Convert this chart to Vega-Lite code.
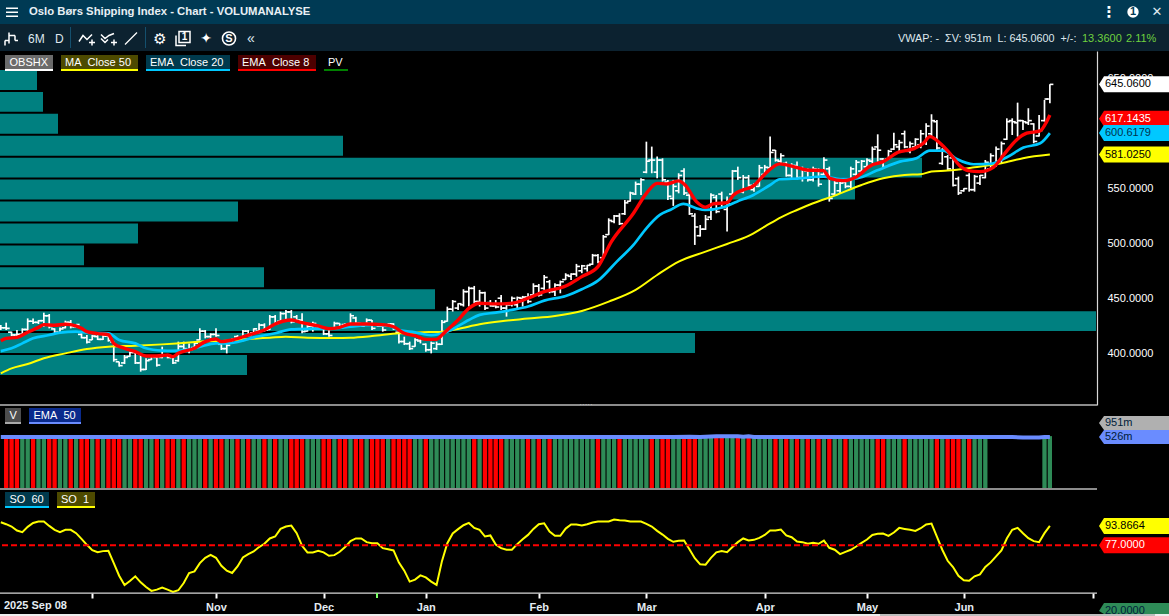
{
"$schema":"https://vega.github.io/schema/vega-lite/v6.json",
"padding":0,"background":"#000000","spacing":0,"bounds":"flush",
"resolve":{"scale":{"color":"independent","fill":"independent","strokeWidth":"independent"}},
"config":{"axis":{"disable":true},"legend":{"disable":true},"view":{"stroke":null},"font":"Liberation Sans","text":{"font":"Liberation Sans"}},
"datasets":{
"vbp":[{"lo":380,"hi":398.2,"pv":24.7},{"lo":400,"hi":418.2,"pv":69.5},{"lo":420,"hi":438.2,"pv":109.6},{"lo":440,"hi":458.2,"pv":43.5},{"lo":460,"hi":478.2,"pv":26.4},{"lo":480,"hi":498.2,"pv":8.4},{"lo":500,"hi":518.2,"pv":13.8},{"lo":520,"hi":538.2,"pv":23.8},{"lo":540,"hi":558.2,"pv":85.5},{"lo":560,"hi":578.2,"pv":92.2},{"lo":580,"hi":598.2,"pv":34.3},{"lo":600,"hi":618.2,"pv":5.8},{"lo":620,"hi":638.2,"pv":4.3},{"lo":640,"hi":658.2,"pv":3.7}],
"tags":[{"s":"OBSHX","at":645.06,"t":"645.0600"},{"s":"EMA8","at":613.6,"t":"617.1435"},{"s":"EMA20","at":600.6,"t":"600.6179"},{"s":"MA50","at":581.0,"t":"581.0250"}],
"lines":[
{"s":"MA50","i":0,"p":381.5},{"s":"MA50","i":2,"p":386},{"s":"MA50","i":5,"p":390},{"s":"MA50","i":8,"p":395.2},{"s":"MA50","i":12,"p":399.7},{"s":"MA50","i":16,"p":403.7},{"s":"MA50","i":20,"p":405.8},{"s":"MA50","i":25,"p":406.7},{"s":"MA50","i":30,"p":407.9},{"s":"MA50","i":35,"p":409.5},{"s":"MA50","i":38,"p":410.7},{"s":"MA50","i":42,"p":411.3},{"s":"MA50","i":46,"p":412.8},{"s":"MA50","i":50,"p":414},{"s":"MA50","i":53,"p":414.9},{"s":"MA50","i":57,"p":414},{"s":"MA50","i":62,"p":413.7},{"s":"MA50","i":65,"p":414},{"s":"MA50","i":69,"p":415.5},{"s":"MA50","i":74,"p":418},{"s":"MA50","i":78,"p":418.9},{"s":"MA50","i":82,"p":419.5},{"s":"MA50","i":85,"p":422},{"s":"MA50","i":89,"p":426.2},{"s":"MA50","i":93,"p":429},{"s":"MA50","i":98,"p":431.4},{"s":"MA50","i":103,"p":433.8},{"s":"MA50","i":108,"p":438.4},{"s":"MA50","i":113,"p":446.9},{"s":"MA50","i":118,"p":457.6},{"s":"MA50","i":122,"p":471.2},{"s":"MA50","i":126,"p":483.4},{"s":"MA50","i":131,"p":492.5},{"s":"MA50","i":135,"p":499.5},{"s":"MA50","i":139,"p":506.8},{"s":"MA50","i":142,"p":515.3},{"s":"MA50","i":145,"p":523.8},{"s":"MA50","i":148,"p":530.5},{"s":"MA50","i":151,"p":536.6},{"s":"MA50","i":155,"p":543.6},{"s":"MA50","i":160,"p":553.3},{"s":"MA50","i":164,"p":559.4},{"s":"MA50","i":168,"p":562.5},{"s":"MA50","i":171,"p":563.1},{"s":"MA50","i":173,"p":565.5},{"s":"MA50","i":176,"p":566.4},{"s":"MA50","i":181,"p":569.4},{"s":"MA50","i":186,"p":573},{"s":"MA50","i":190,"p":577.7},{"s":"MA50","i":195,"p":581},
{"s":"EMA20","i":0,"p":401.8},{"s":"EMA20","i":2,"p":404.3},{"s":"EMA20","i":4,"p":408.8},{"s":"EMA20","i":6,"p":413.4},{"s":"EMA20","i":9,"p":416.4},{"s":"EMA20","i":11,"p":418.6},{"s":"EMA20","i":14,"p":419.5},{"s":"EMA20","i":16,"p":418.6},{"s":"EMA20","i":20,"p":418},{"s":"EMA20","i":22,"p":411.9},{"s":"EMA20","i":25,"p":408.8},{"s":"EMA20","i":27,"p":404.3},{"s":"EMA20","i":30,"p":402.2},{"s":"EMA20","i":32,"p":401.9},{"s":"EMA20","i":35,"p":403.4},{"s":"EMA20","i":37,"p":405.8},{"s":"EMA20","i":40,"p":408.8},{"s":"EMA20","i":42,"p":408.8},{"s":"EMA20","i":45,"p":411.3},{"s":"EMA20","i":47,"p":414.3},{"s":"EMA20","i":51,"p":418},{"s":"EMA20","i":54,"p":421.6},{"s":"EMA20","i":58,"p":422.2},{"s":"EMA20","i":61,"p":422.5},{"s":"EMA20","i":65,"p":424},{"s":"EMA20","i":69,"p":425.6},{"s":"EMA20","i":72,"p":425},{"s":"EMA20","i":74,"p":421},{"s":"EMA20","i":77,"p":418.9},{"s":"EMA20","i":80,"p":416.4},{"s":"EMA20","i":83,"p":419.5},{"s":"EMA20","i":87,"p":430.2},{"s":"EMA20","i":89,"p":434.8},{"s":"EMA20","i":92,"p":436.9},{"s":"EMA20","i":95,"p":439.3},{"s":"EMA20","i":98,"p":442.4},{"s":"EMA20","i":101,"p":447.8},{"s":"EMA20","i":105,"p":452.1},{"s":"EMA20","i":108,"p":458.2},{"s":"EMA20","i":111,"p":466},{"s":"EMA20","i":114.5,"p":483.4},{"s":"EMA20","i":117.6,"p":498.6},{"s":"EMA20","i":120,"p":513.8},{"s":"EMA20","i":122.5,"p":526},{"s":"EMA20","i":124.4,"p":530.5},{"s":"EMA20","i":126.9,"p":536},{"s":"EMA20","i":129.3,"p":532},{"s":"EMA20","i":130.9,"p":530.5},{"s":"EMA20","i":134.3,"p":533},{"s":"EMA20","i":136.8,"p":538.1},{"s":"EMA20","i":139.9,"p":544.2},{"s":"EMA20","i":143,"p":553.3},{"s":"EMA20","i":144.8,"p":558.5},{"s":"EMA20","i":148.6,"p":559.4},{"s":"EMA20","i":152.9,"p":560.9},{"s":"EMA20","i":156,"p":558.8},{"s":"EMA20","i":159.1,"p":559.4},{"s":"EMA20","i":162.8,"p":566.4},{"s":"EMA20","i":167.1,"p":574.6},{"s":"EMA20","i":170.2,"p":577.7},{"s":"EMA20","i":172.7,"p":584.6},{"s":"EMA20","i":175.2,"p":584.6},{"s":"EMA20","i":177.7,"p":577},{"s":"EMA20","i":180.8,"p":572.2},{"s":"EMA20","i":183.9,"p":572.5},{"s":"EMA20","i":187,"p":578.6},{"s":"EMA20","i":190.1,"p":587.4},{"s":"EMA20","i":193.2,"p":591.3},{"s":"EMA20","i":195,"p":600.6},
{"s":"EMA8","i":0,"p":411.3},{"s":"EMA8","i":1,"p":413.4},{"s":"EMA8","i":3,"p":414.3},{"s":"EMA8","i":5,"p":418.9},{"s":"EMA8","i":7,"p":423.4},{"s":"EMA8","i":8,"p":425.9},{"s":"EMA8","i":10,"p":425.3},{"s":"EMA8","i":12,"p":426.2},{"s":"EMA8","i":13,"p":425.9},{"s":"EMA8","i":15,"p":422.5},{"s":"EMA8","i":16,"p":419.5},{"s":"EMA8","i":18,"p":417.7},{"s":"EMA8","i":20,"p":416.7},{"s":"EMA8","i":21,"p":408.8},{"s":"EMA8","i":23,"p":404.3},{"s":"EMA8","i":25,"p":401.2},{"s":"EMA8","i":27,"p":397.3},{"s":"EMA8","i":29,"p":397.3},{"s":"EMA8","i":31,"p":398.2},{"s":"EMA8","i":32,"p":396.7},{"s":"EMA8","i":33,"p":399.7},{"s":"EMA8","i":36,"p":404.3},{"s":"EMA8","i":38,"p":410.4},{"s":"EMA8","i":40,"p":412.8},{"s":"EMA8","i":41,"p":410.4},{"s":"EMA8","i":43,"p":411.9},{"s":"EMA8","i":46,"p":416.4},{"s":"EMA8","i":49,"p":421},{"s":"EMA8","i":51,"p":426.5},{"s":"EMA8","i":54,"p":430.1},{"s":"EMA8","i":56,"p":427.7},{"s":"EMA8","i":59,"p":424.7},{"s":"EMA8","i":61,"p":422.2},{"s":"EMA8","i":63,"p":423.4},{"s":"EMA8","i":65,"p":426.5},{"s":"EMA8","i":68,"p":426.5},{"s":"EMA8","i":71,"p":425.9},{"s":"EMA8","i":73,"p":424},{"s":"EMA8","i":75,"p":418},{"s":"EMA8","i":77,"p":415.8},{"s":"EMA8","i":79,"p":412.5},{"s":"EMA8","i":81,"p":412.5},{"s":"EMA8","i":82,"p":416.4},{"s":"EMA8","i":83,"p":421.1},{"s":"EMA8","i":85,"p":430.2},{"s":"EMA8","i":87,"p":440.8},{"s":"EMA8","i":89,"p":445.4},{"s":"EMA8","i":92,"p":444.8},{"s":"EMA8","i":95,"p":445.4},{"s":"EMA8","i":98,"p":450},{"s":"EMA8","i":101,"p":456},{"s":"EMA8","i":105,"p":461.2},{"s":"EMA8","i":108,"p":469.7},{"s":"EMA8","i":111,"p":478.8},{"s":"EMA8","i":113.5,"p":501.6},{"s":"EMA8","i":117.6,"p":527.5},{"s":"EMA8","i":120,"p":545.7},{"s":"EMA8","i":122,"p":554.8},{"s":"EMA8","i":123.8,"p":554.2},{"s":"EMA8","i":126,"p":557},{"s":"EMA8","i":127.2,"p":553.3},{"s":"EMA8","i":129.3,"p":538.1},{"s":"EMA8","i":131,"p":533},{"s":"EMA8","i":132.4,"p":536},{"s":"EMA8","i":135,"p":537.2},{"s":"EMA8","i":136.2,"p":544.2},{"s":"EMA8","i":138,"p":548.8},{"s":"EMA8","i":139.9,"p":552.4},{"s":"EMA8","i":141,"p":557.9},{"s":"EMA8","i":142.7,"p":566.4},{"s":"EMA8","i":144.8,"p":572.5},{"s":"EMA8","i":147.3,"p":570.1},{"s":"EMA8","i":149.8,"p":567},{"s":"EMA8","i":152.9,"p":566.4},{"s":"EMA8","i":154.1,"p":559.4},{"s":"EMA8","i":156.6,"p":557.3},{"s":"EMA8","i":159.1,"p":560.9},{"s":"EMA8","i":161.6,"p":570.7},{"s":"EMA8","i":164,"p":574.6},{"s":"EMA8","i":166.8,"p":583.1},{"s":"EMA8","i":169.6,"p":586.2},{"s":"EMA8","i":171.5,"p":591.3},{"s":"EMA8","i":172.7,"p":597.4},{"s":"EMA8","i":174.6,"p":591.3},{"s":"EMA8","i":176.4,"p":582.2},{"s":"EMA8","i":178.3,"p":570.7},{"s":"EMA8","i":179.8,"p":566.4},{"s":"EMA8","i":182,"p":565.5},{"s":"EMA8","i":184.5,"p":569.4},{"s":"EMA8","i":186.4,"p":580.7},{"s":"EMA8","i":188.8,"p":594.4},{"s":"EMA8","i":190.7,"p":600.5},{"s":"EMA8","i":193.2,"p":602.6},{"s":"EMA8","i":194.4,"p":611.1},{"s":"EMA8","i":195,"p":617.14}
],
"vema":[{"i":0,"v":526},{"i":125,"v":526},{"i":128,"v":650},{"i":130,"v":526},{"i":133,"v":800},{"i":137,"v":800},{"i":138,"v":600},{"i":139,"v":800},{"i":140,"v":526},{"i":188,"v":526},{"i":190,"v":400},{"i":193,"v":380},{"i":194,"v":526},{"i":195,"v":526}],
"bars":[
{"i":0,"o":424,"h":425.6,"l":421,"c":423,"so":97.1},
{"i":1,"o":423,"h":427.7,"l":421,"c":422.5,"so":95.4,"d":"R","v":500},
{"i":2,"o":419,"h":419.5,"l":415.5,"c":416.5,"so":93.4,"d":"R","v":500},
{"i":3,"o":416.5,"h":421,"l":415.5,"c":417,"so":89.9,"d":"R","v":500},
{"i":4,"o":417,"h":422.5,"l":416.4,"c":421.5,"so":88.5,"d":"G","v":500},
{"i":5,"o":421.5,"h":431.6,"l":418,"c":429,"so":93.1,"d":"G","v":500},
{"i":6,"o":429,"h":431.6,"l":426.5,"c":428,"so":96.5,"d":"R","v":500},
{"i":7,"o":428,"h":430.1,"l":426.5,"c":429.5,"so":97.7,"d":"G","v":500},
{"i":8,"o":429.5,"h":436.8,"l":424,"c":434,"so":97.7,"d":"G","v":500},
{"i":9,"o":434,"h":435.6,"l":422.5,"c":424,"so":93.9,"d":"R","v":500},
{"i":10,"o":422,"h":422.5,"l":418,"c":419,"so":90.5,"d":"R","v":500},
{"i":11,"o":419,"h":423.4,"l":418,"c":422,"so":88.5,"d":"G","v":500},
{"i":12,"o":423,"h":429.5,"l":422.5,"c":428,"so":90.5,"d":"G","v":500},
{"i":13,"o":428,"h":430.1,"l":422.5,"c":424,"so":90.5,"d":"R","v":500},
{"i":14,"o":424,"h":426.5,"l":423.4,"c":426,"so":87.6,"d":"G","v":500},
{"i":15,"o":417,"h":418,"l":413.4,"c":414,"so":82.7,"d":"R","v":500},
{"i":16,"o":414,"h":416.4,"l":408.8,"c":410,"so":77.5,"d":"R","v":500},
{"i":17,"o":412,"h":416.4,"l":411.9,"c":415.5,"so":72.9,"d":"G","v":500},
{"i":18,"o":415,"h":416.4,"l":411.9,"c":412.5,"so":71.1,"d":"R","v":500},
{"i":19,"o":412.5,"h":416.4,"l":411.9,"c":415.5,"so":72,"d":"G","v":500},
{"i":20,"o":415.5,"h":418,"l":410.4,"c":411.5,"so":72.3,"d":"R","v":500},
{"i":21,"o":410,"h":410.4,"l":392.1,"c":394,"so":61.6,"d":"R","v":500},
{"i":22,"o":392,"h":392.1,"l":387.6,"c":388.5,"so":50.6,"d":"R","v":500},
{"i":23,"o":391,"h":398.2,"l":390,"c":396,"so":42.6,"d":"G","v":500},
{"i":24,"o":397,"h":401.2,"l":396.7,"c":400.5,"so":46,"d":"G","v":500},
{"i":25,"o":400.5,"h":401.2,"l":390,"c":391,"so":50.1,"d":"R","v":500},
{"i":26,"o":391,"h":398.2,"l":383,"c":385,"so":44.9,"d":"R","v":500},
{"i":27,"o":385,"h":395.2,"l":384.5,"c":393,"so":40.8,"d":"G","v":500},
{"i":28,"o":394,"h":398.2,"l":393.6,"c":397.5,"so":37.4,"d":"G","v":500},
{"i":29,"o":396,"h":396.7,"l":387.6,"c":389,"so":38.5,"d":"R","v":500},
{"i":30,"o":396,"h":405.8,"l":395.2,"c":398,"so":40.3,"d":"G","v":500},
{"i":31,"o":398,"h":398.2,"l":395.2,"c":396,"so":38.5,"d":"R","v":500},
{"i":32,"o":396,"h":398.2,"l":390,"c":391,"so":36.5,"d":"R","v":500},
{"i":33,"o":393,"h":410.4,"l":392.1,"c":406,"so":38,"d":"G","v":500},
{"i":34,"o":406,"h":410.4,"l":402.8,"c":404,"so":44.3,"d":"R","v":500},
{"i":35,"o":402,"h":408.8,"l":399.7,"c":403,"so":53,"d":"G","v":500},
{"i":36,"o":405,"h":410.4,"l":404.3,"c":409,"so":54.4,"d":"G","v":500},
{"i":37,"o":412,"h":422.5,"l":411.9,"c":420,"so":61.6,"d":"G","v":500},
{"i":38,"o":420,"h":421,"l":413.4,"c":415,"so":66.2,"d":"R","v":500},
{"i":39,"o":415,"h":418,"l":411.9,"c":417,"so":68.8,"d":"G","v":500},
{"i":40,"o":417,"h":422.5,"l":414.9,"c":416,"so":66.2,"d":"R","v":500},
{"i":41,"o":408,"h":408.8,"l":402.8,"c":404,"so":59.3,"d":"R","v":500},
{"i":42,"o":404,"h":408.8,"l":399.7,"c":407,"so":55,"d":"G","v":500},
{"i":43,"o":409,"h":413.4,"l":408.8,"c":412.5,"so":53,"d":"G","v":500},
{"i":44,"o":415,"h":416.4,"l":411.9,"c":413,"so":58.7,"d":"R","v":500},
{"i":45,"o":414,"h":421,"l":413.4,"c":420,"so":66.5,"d":"G","v":500},
{"i":46,"o":420,"h":421,"l":414.9,"c":416,"so":69.4,"d":"R","v":500},
{"i":47,"o":418.5,"h":422.5,"l":418,"c":422,"so":71.7,"d":"G","v":500},
{"i":48,"o":420,"h":427.1,"l":418,"c":425.5,"so":75.5,"d":"G","v":500},
{"i":49,"o":425.5,"h":427.1,"l":419.5,"c":421,"so":78.4,"d":"R","v":500},
{"i":50,"o":421.5,"h":434.7,"l":421,"c":433,"so":83,"d":"G","v":500},
{"i":51,"o":433,"h":434.7,"l":425.6,"c":427,"so":84.7,"d":"R","v":500},
{"i":52,"o":429,"h":437.7,"l":428.6,"c":436,"so":91.3,"d":"G","v":500},
{"i":53,"o":436,"h":439.2,"l":430.1,"c":437.5,"so":93.4,"d":"G","v":500},
{"i":54,"o":437.5,"h":439.2,"l":427.1,"c":428.5,"so":94.2,"d":"R","v":500},
{"i":55,"o":433,"h":434.7,"l":428.6,"c":430,"so":87.6,"d":"R","v":500},
{"i":56,"o":430,"h":436.2,"l":418,"c":419.5,"so":76.6,"d":"R","v":500},
{"i":57,"o":420,"h":425.6,"l":419.5,"c":424.5,"so":70.9,"d":"G","v":500},
{"i":58,"o":424.5,"h":428.6,"l":419.5,"c":427,"so":70.9,"d":"G","v":500},
{"i":59,"o":422.5,"h":424,"l":421,"c":423.8,"so":72.3,"d":"G","v":500},
{"i":60,"o":423.8,"h":424,"l":416.4,"c":417.5,"so":70.9,"d":"R","v":500},
{"i":61,"o":417.5,"h":422.5,"l":414.9,"c":416,"so":68,"d":"R","v":500},
{"i":62,"o":423,"h":428.6,"l":422.5,"c":427,"so":68.5,"d":"G","v":500},
{"i":63,"o":427,"h":427.1,"l":422.5,"c":423,"so":71.4,"d":"R","v":500},
{"i":64,"o":426,"h":427.1,"l":424,"c":424.5,"so":75.5,"d":"R","v":500},
{"i":65,"o":426,"h":436.2,"l":425.6,"c":434,"so":80.7,"d":"G","v":500},
{"i":66,"o":432,"h":433.2,"l":425.6,"c":427,"so":83,"d":"R","v":500},
{"i":67,"o":427,"h":427.1,"l":424,"c":424.5,"so":83,"d":"R","v":500},
{"i":68,"o":426,"h":431.6,"l":425.6,"c":430,"so":79.8,"d":"G","v":500},
{"i":69,"o":430,"h":430.1,"l":421,"c":422.5,"so":78.9,"d":"R","v":500},
{"i":70,"o":425.5,"h":427.1,"l":424,"c":424.5,"so":78.9,"d":"R","v":500},
{"i":71,"o":424.5,"h":427.1,"l":419.5,"c":421,"so":74.6,"d":"R","v":500},
{"i":72,"o":424.5,"h":427.1,"l":424,"c":426.5,"so":73.7,"d":"G","v":500},
{"i":73,"o":426.5,"h":427.1,"l":421,"c":422,"so":72.6,"d":"R","v":500},
{"i":74,"o":419,"h":419.5,"l":408.8,"c":410.5,"so":62,"d":"R","v":500},
{"i":75,"o":410.5,"h":414.9,"l":407.3,"c":408.5,"so":55,"d":"R","v":500},
{"i":76,"o":408.5,"h":410.4,"l":402.8,"c":404,"so":45.5,"d":"R","v":500},
{"i":77,"o":406,"h":413.4,"l":405.8,"c":412,"so":47.2,"d":"G","v":500},
{"i":78,"o":411,"h":413.4,"l":408.8,"c":412.5,"so":50.9,"d":"G","v":500},
{"i":79,"o":408,"h":408.8,"l":401.2,"c":403,"so":49.2,"d":"R","v":500},
{"i":80,"o":403,"h":410.4,"l":399.7,"c":409,"so":45.5,"d":"G","v":500},
{"i":81,"o":404,"h":410.4,"l":402.8,"c":408,"so":42.6,"d":"G","v":500},
{"i":82,"o":408,"h":430.1,"l":407.3,"c":428,"so":63.3,"d":"G","v":500},
{"i":83,"o":429,"h":442.3,"l":428.6,"c":440,"so":78.9,"d":"G","v":500},
{"i":84,"o":440,"h":448.4,"l":437.8,"c":447,"so":87.3,"d":"G","v":500},
{"i":85,"o":441,"h":445.4,"l":439.3,"c":445,"so":91.1,"d":"G","v":500},
{"i":86,"o":444,"h":458.2,"l":442.4,"c":456,"so":94.5,"d":"G","v":500},
{"i":87,"o":456,"h":460.6,"l":442.4,"c":459,"so":96.5,"d":"G","v":500},
{"i":88,"o":459,"h":461.2,"l":445.4,"c":447,"so":92.2,"d":"R","v":500},
{"i":89,"o":447,"h":457.6,"l":442.4,"c":455,"so":90.5,"d":"G","v":500},
{"i":90,"o":455,"h":456,"l":439.3,"c":441,"so":84.7,"d":"R","v":500},
{"i":91,"o":446,"h":448.4,"l":442.4,"c":443,"so":85.6,"d":"R","v":500},
{"i":92,"o":443,"h":448.4,"l":440.8,"c":442,"so":77.8,"d":"R","v":500},
{"i":93,"o":450,"h":453,"l":439.3,"c":441,"so":74.6,"d":"R","v":500},
{"i":94,"o":441,"h":445.4,"l":433.2,"c":444,"so":73.2,"d":"G","v":500},
{"i":95,"o":444,"h":451.5,"l":442.4,"c":450,"so":73.2,"d":"G","v":500},
{"i":96,"o":444,"h":451.5,"l":440.8,"c":450.5,"so":78.1,"d":"G","v":500},
{"i":97,"o":450,"h":452.1,"l":442.4,"c":451,"so":82.4,"d":"G","v":500},
{"i":98,"o":451,"h":454.5,"l":445.4,"c":447,"so":86.1,"d":"R","v":500},
{"i":99,"o":453,"h":463.6,"l":451.5,"c":461,"so":91.3,"d":"G","v":500},
{"i":100,"o":461,"h":463,"l":451.5,"c":453,"so":95.4,"d":"R","v":500},
{"i":101,"o":459,"h":471.2,"l":457.6,"c":469,"so":96.2,"d":"G","v":500},
{"i":102,"o":465,"h":466.7,"l":454.5,"c":456,"so":89,"d":"R","v":500},
{"i":103,"o":456,"h":463.6,"l":452.1,"c":462,"so":85.3,"d":"G","v":500},
{"i":104,"o":462,"h":466.1,"l":454.5,"c":465,"so":85.3,"d":"G","v":500},
{"i":105,"o":467,"h":472.8,"l":466.7,"c":471,"so":91.6,"d":"G","v":500},
{"i":106,"o":470,"h":472.8,"l":466.7,"c":472,"so":95.1,"d":"G","v":500},
{"i":107,"o":472,"h":481.3,"l":469.7,"c":479,"so":95.1,"d":"G","v":500},
{"i":108,"o":475,"h":480.4,"l":472.8,"c":479.5,"so":94.2,"d":"G","v":500},
{"i":109,"o":477,"h":480.4,"l":474.3,"c":480,"so":95.4,"d":"G","v":500},
{"i":110,"o":481,"h":490.4,"l":480.4,"c":489,"so":96.8,"d":"G","v":500},
{"i":111,"o":489,"h":490.4,"l":481.9,"c":483,"so":97.7,"d":"R","v":500},
{"i":112,"o":487,"h":507.7,"l":486.4,"c":506,"so":97.7,"d":"G","v":500},
{"i":113,"o":508,"h":522.9,"l":507.7,"c":521,"so":97.7,"d":"G","v":500},
{"i":114,"o":520,"h":526,"l":518.4,"c":525,"so":99.4,"d":"G","v":500},
{"i":115,"o":525,"h":527.5,"l":516.8,"c":518,"so":98.8,"d":"R","v":500},
{"i":116,"o":527,"h":539.6,"l":526,"c":537,"so":98.6,"d":"G","v":500},
{"i":117,"o":538.5,"h":547.2,"l":538.1,"c":546,"so":97.7,"d":"G","v":500},
{"i":118,"o":545,"h":556.4,"l":544.2,"c":554,"so":97.7,"d":"G","v":500},
{"i":119,"o":554,"h":559.4,"l":544.2,"c":558,"so":97.7,"d":"G","v":500},
{"i":120,"o":565,"h":592.8,"l":564,"c":575,"so":95.7,"d":"G","v":500},
{"i":121,"o":576,"h":588.3,"l":564,"c":576,"so":93.4,"d":"R","v":500},
{"i":122,"o":565,"h":579.2,"l":559.4,"c":576,"so":89.6,"d":"G","v":500},
{"i":123,"o":576,"h":577.6,"l":556.4,"c":558,"so":86.4,"d":"R","v":500},
{"i":124,"o":556,"h":557.9,"l":539.6,"c":543,"so":82.7,"d":"R","v":500},
{"i":125,"o":541,"h":557.9,"l":534.2,"c":552,"so":80.1,"d":"G","v":500},
{"i":126,"o":548,"h":564,"l":545.7,"c":562,"so":81,"d":"G","v":500},
{"i":127,"o":566,"h":568.5,"l":544.2,"c":546,"so":81.2,"d":"R","v":500},
{"i":128,"o":544,"h":545.7,"l":526,"c":527,"so":73.7,"d":"R","v":500},
{"i":129,"o":525,"h":527.5,"l":498.6,"c":515,"so":65.9,"d":"R","v":500},
{"i":130,"o":507,"h":516.8,"l":506.2,"c":513,"so":60.5,"d":"G","v":500},
{"i":131,"o":513,"h":525.9,"l":512.3,"c":522,"so":60.2,"d":"G","v":500},
{"i":132,"o":524,"h":545.7,"l":521.4,"c":544,"so":66.2,"d":"G","v":500},
{"i":133,"o":542,"h":544.2,"l":527.5,"c":529,"so":70.9,"d":"R","v":500},
{"i":134,"o":545,"h":547.2,"l":532,"c":533.5,"so":72,"d":"R","v":500},
{"i":135,"o":531,"h":542.7,"l":510.8,"c":536,"so":71.1,"d":"G","v":500},
{"i":136,"o":545,"h":567,"l":544.2,"c":566,"so":75.5,"d":"G","v":500},
{"i":137,"o":566,"h":570,"l":557.9,"c":560,"so":79.8,"d":"R","v":500},
{"i":138,"o":547,"h":562.4,"l":545.7,"c":560,"so":83,"d":"G","v":500},
{"i":139,"o":560,"h":562.4,"l":551.8,"c":553,"so":81.2,"d":"R","v":500},
{"i":140,"o":549,"h":554.8,"l":547.2,"c":554,"so":81.8,"d":"G","v":500},
{"i":141,"o":552,"h":571.6,"l":551.8,"c":569,"so":83.5,"d":"G","v":500},
{"i":142,"o":563,"h":571.6,"l":562.4,"c":569.5,"so":86.1,"d":"G","v":500},
{"i":143,"o":569,"h":597.4,"l":567,"c":583,"so":89.9,"d":"G","v":500},
{"i":144,"o":585,"h":585.2,"l":574.6,"c":576,"so":89.9,"d":"R","v":500},
{"i":145,"o":575,"h":582.2,"l":573.1,"c":580,"so":90.8,"d":"G","v":500},
{"i":146,"o":573,"h":574.6,"l":560.9,"c":562,"so":85.6,"d":"R","v":500},
{"i":147,"o":562,"h":573.1,"l":557.9,"c":571,"so":84.1,"d":"G","v":500},
{"i":148,"o":571,"h":574.6,"l":557.9,"c":560,"so":80.4,"d":"R","v":500},
{"i":149,"o":560,"h":570,"l":556.4,"c":568,"so":79.8,"d":"G","v":500},
{"i":150,"o":566,"h":568.5,"l":556.4,"c":558,"so":78.4,"d":"R","v":500},
{"i":151,"o":558,"h":570,"l":556.4,"c":568,"so":79.2,"d":"G","v":500},
{"i":152,"o":567,"h":568.5,"l":551.8,"c":554,"so":78.4,"d":"R","v":500},
{"i":153,"o":563,"h":578.6,"l":562.5,"c":576,"so":81.2,"d":"G","v":500},
{"i":154,"o":568,"h":570,"l":538.1,"c":541,"so":74.9,"d":"R","v":500},
{"i":155,"o":545,"h":557.9,"l":544.2,"c":555,"so":73.2,"d":"G","v":500},
{"i":156,"o":548,"h":556.4,"l":545.7,"c":555,"so":69.4,"d":"G","v":500},
{"i":157,"o":556,"h":557.9,"l":550.3,"c":552,"so":71.4,"d":"R","v":500},
{"i":158,"o":552,"h":570,"l":550.3,"c":568,"so":73.2,"d":"G","v":500},
{"i":159,"o":563,"h":576.1,"l":560.9,"c":574,"so":76,"d":"G","v":500},
{"i":160,"o":566,"h":576.1,"l":564,"c":575,"so":79.2,"d":"G","v":500},
{"i":161,"o":570,"h":577.6,"l":568.5,"c":576,"so":82.1,"d":"G","v":500},
{"i":162,"o":575,"h":588.3,"l":573.1,"c":586,"so":86.1,"d":"G","v":500},
{"i":163,"o":588,"h":599.5,"l":574.6,"c":585,"so":87,"d":"R","v":500},
{"i":164,"o":577,"h":577.6,"l":568.5,"c":570,"so":87.3,"d":"R","v":500},
{"i":165,"o":577,"h":585.3,"l":576.1,"c":584,"so":85.3,"d":"G","v":500},
{"i":166,"o":586,"h":601,"l":585.3,"c":590,"so":88.2,"d":"G","v":500},
{"i":167,"o":588,"h":594.4,"l":583.7,"c":592,"so":92.2,"d":"G","v":500},
{"i":168,"o":600,"h":602.9,"l":586.8,"c":588,"so":91.3,"d":"R","v":500},
{"i":169,"o":584,"h":592.9,"l":582.2,"c":591,"so":90.5,"d":"G","v":500},
{"i":170,"o":588,"h":595.9,"l":586.8,"c":595,"so":89.6,"d":"G","v":500},
{"i":171,"o":590,"h":603.5,"l":586.8,"c":600,"so":91.9,"d":"G","v":500},
{"i":172,"o":592,"h":609.6,"l":589.8,"c":607,"so":95.1,"d":"G","v":500},
{"i":173,"o":600,"h":617.8,"l":597.4,"c":612,"so":96,"d":"G","v":500},
{"i":174,"o":611,"h":612.6,"l":585.3,"c":587,"so":84.7,"d":"R","v":500},
{"i":175,"o":573,"h":586.8,"l":571.6,"c":585,"so":73.2,"d":"G","v":500},
{"i":176,"o":579,"h":580.7,"l":567,"c":568,"so":63.6,"d":"R","v":500},
{"i":177,"o":578,"h":580.7,"l":551.8,"c":553,"so":58.2,"d":"R","v":500},
{"i":178,"o":559,"h":560.9,"l":544.2,"c":546,"so":50.6,"d":"R","v":500},
{"i":179,"o":548,"h":550.3,"l":547.2,"c":550,"so":46.6,"d":"G","v":500},
{"i":180,"o":562,"h":564,"l":547.2,"c":549,"so":46.3,"d":"R","v":500},
{"i":181,"o":549,"h":562.5,"l":547.2,"c":561,"so":50.1,"d":"G","v":500},
{"i":182,"o":555,"h":562.5,"l":553.3,"c":562,"so":51.8,"d":"G","v":500},
{"i":183,"o":560,"h":576.1,"l":559.4,"c":574,"so":58.2,"d":"G","v":500},
{"i":184,"o":568,"h":582.2,"l":567,"c":580,"so":62.2},
{"i":185,"o":572,"h":588.3,"l":570,"c":586,"so":67.4},
{"i":186,"o":575,"h":592.9,"l":573.1,"c":591,"so":72.6},
{"i":187,"o":595,"h":614.1,"l":594.4,"c":611,"so":83},
{"i":188,"o":612,"h":614.1,"l":598.9,"c":611,"so":90.5},
{"i":189,"o":610,"h":628.4,"l":597.4,"c":612,"so":92.2},
{"i":190,"o":612,"h":612.6,"l":603.5,"c":611,"so":87.6},
{"i":191,"o":610,"h":623.3,"l":608,"c":612,"so":83.3},
{"i":192,"o":609,"h":609.6,"l":591.3,"c":593,"so":80.7},
{"i":193,"o":598,"h":617.2,"l":597.4,"c":603,"so":79.8},
{"i":194,"o":612,"h":630.8,"l":611.1,"c":631.7,"so":87.6,"d":"G","v":700},
{"i":195,"o":631.7,"h":645.1,"l":627.8,"c":645.06,"so":93.9,"d":"G","v":951}
]},
"vconcat":[
{"width":1169,"height":24,"data":{"values":[{}]},"view":{"fill":"#003a54"},"layer":[
 {"mark":{"type":"rect","color":"#ffffff"},"encoding":{"x":{"datum":6,"scale":{"domain":[0,1169]}},"x2":{"datum":18},"y":{"datum":7.5,"scale":{"domain":[24,0]}},"y2":{"datum":9}}},
 {"mark":{"type":"rect","color":"#ffffff"},"encoding":{"x":{"datum":6,"scale":{"domain":[0,1169]}},"x2":{"datum":18},"y":{"datum":11.5,"scale":{"domain":[24,0]}},"y2":{"datum":13}}},
 {"mark":{"type":"rect","color":"#ffffff"},"encoding":{"x":{"datum":6,"scale":{"domain":[0,1169]}},"x2":{"datum":18},"y":{"datum":15.5,"scale":{"domain":[24,0]}},"y2":{"datum":17}}},
 {"mark":{"type":"text","align":"left","baseline":"middle","color":"#e8f0f4","fontSize":11.3,"fontWeight":"bold"},"encoding":{"x":{"datum":29,"scale":{"domain":[0,1169]}},"y":{"datum":12,"scale":{"domain":[24,0]}},"text":{"value":"Oslo Børs Shipping Index - Chart - VOLUMANALYSE"}}},
 {"mark":{"type":"text","baseline":"middle","color":"#ffffff","fontSize":15,"fontWeight":"bold","font":"DejaVu Sans"},"encoding":{"x":{"datum":1109,"scale":{"domain":[0,1169]}},"y":{"datum":12,"scale":{"domain":[24,0]}},"text":{"value":"⋮"}}},
 {"mark":{"type":"point","shape":"circle","filled":true,"color":"#ffffff","size":130,"opacity":1},"encoding":{"x":{"datum":1133,"scale":{"domain":[0,1169]}},"y":{"datum":12,"scale":{"domain":[24,0]}}}},
 {"mark":{"type":"text","baseline":"middle","color":"#003a54","fontSize":11,"fontWeight":"bold"},"encoding":{"x":{"datum":1133,"scale":{"domain":[0,1169]}},"y":{"datum":12,"scale":{"domain":[24,0]}},"text":{"value":"1"}}},
 {"mark":{"type":"text","baseline":"middle","color":"#dfe8ee","fontSize":13,"font":"DejaVu Sans"},"encoding":{"x":{"datum":1157,"scale":{"domain":[0,1169]}},"y":{"datum":12,"scale":{"domain":[24,0]}},"text":{"value":"✕"}}}
]},
{"width":1169,"height":27,"data":{"values":[{}]},"view":{"fill":"#0c2230"},"layer":[
 {"mark":{"type":"rect","color":"#14506e"},"encoding":{"x":{"datum":70,"scale":{"domain":[0,1169]}},"x2":{"datum":71},"y":{"datum":3,"scale":{"domain":[27,0]}},"y2":{"datum":24}}},
 {"mark":{"type":"rect","color":"#14506e"},"encoding":{"x":{"datum":145,"scale":{"domain":[0,1169]}},"x2":{"datum":146},"y":{"datum":3,"scale":{"domain":[27,0]}},"y2":{"datum":24}}},
 {"mark":{"type":"point","filled":false,"stroke":"#ffffff","strokeWidth":1.5,"size":4,"opacity":1,"shape":"M-7 7 L-7 2 M-7 2 L-3 2 M-3 -6 L-3 5 M-3 -3 L3 -3 M3 -3 L3 2 M3 2 L6 2"},"encoding":{"x":{"datum":12,"scale":{"domain":[0,1169]}},"y":{"datum":14.5,"scale":{"domain":[27,0]}}}},
 {"mark":{"type":"point","filled":false,"stroke":"#ffffff","strokeWidth":1.5,"size":4,"opacity":1,"shape":"M-7 3 L-3 -3 L1 1 L6 -4 M3 4 L9 4 M6 1 L6 7"},"encoding":{"x":{"datum":86,"scale":{"domain":[0,1169]}},"y":{"datum":14.5,"scale":{"domain":[27,0]}}}},
 {"mark":{"type":"point","filled":false,"stroke":"#ffffff","strokeWidth":1.5,"size":4,"opacity":1,"shape":"M-7 -4 L-3 0 L1 -3 L6 -5 M-7 0 L-3 4 L0 1 M3 4 L9 4 M6 1 L6 7"},"encoding":{"x":{"datum":108,"scale":{"domain":[0,1169]}},"y":{"datum":14.5,"scale":{"domain":[27,0]}}}},
 {"mark":{"type":"point","filled":false,"stroke":"#ffffff","strokeWidth":1.2,"size":4,"opacity":1,"shape":"M-6 6 L6 -6"},"encoding":{"x":{"datum":131,"scale":{"domain":[0,1169]}},"y":{"datum":14.5,"scale":{"domain":[27,0]}}}},
 {"mark":{"type":"point","filled":false,"stroke":"#ffffff","strokeWidth":1.5,"size":4,"opacity":1,"shape":"M-7 -3 L-7 7 L3 7 M-4 -7 L7 -7 L7 4 L-4 4 Z"},"encoding":{"x":{"datum":183,"scale":{"domain":[0,1169]}},"y":{"datum":14.5,"scale":{"domain":[27,0]}}}},
 {"mark":{"type":"point","shape":"circle","filled":false,"stroke":"#ffffff","strokeWidth":1.6,"size":170,"opacity":1},"encoding":{"x":{"datum":229,"scale":{"domain":[0,1169]}},"y":{"datum":14.5,"scale":{"domain":[27,0]}}}},
 {"mark":{"type":"text","align":"left","baseline":"middle","color":"#dfe8ee","fontSize":12},"encoding":{"x":{"datum":28,"scale":{"domain":[0,1169]}},"y":{"datum":15,"scale":{"domain":[27,0]}},"text":{"value":"6M"}}},
 {"mark":{"type":"text","align":"left","baseline":"middle","color":"#dfe8ee","fontSize":12},"encoding":{"x":{"datum":55,"scale":{"domain":[0,1169]}},"y":{"datum":15,"scale":{"domain":[27,0]}},"text":{"value":"D"}}},
 {"mark":{"type":"text","baseline":"middle","color":"#ffffff","fontSize":15,"font":"DejaVu Sans"},"encoding":{"x":{"datum":160,"scale":{"domain":[0,1169]}},"y":{"datum":14.5,"scale":{"domain":[27,0]}},"text":{"value":"⚙"}}},
 {"mark":{"type":"text","baseline":"middle","color":"#ffffff","fontSize":10,"fontWeight":"bold"},"encoding":{"x":{"datum":184.5,"scale":{"domain":[0,1169]}},"y":{"datum":13,"scale":{"domain":[27,0]}},"text":{"value":"1"}}},
 {"mark":{"type":"text","baseline":"middle","color":"#ffffff","fontSize":14,"font":"DejaVu Sans"},"encoding":{"x":{"datum":206,"scale":{"domain":[0,1169]}},"y":{"datum":14.5,"scale":{"domain":[27,0]}},"text":{"value":"✦"}}},
 {"mark":{"type":"text","baseline":"middle","color":"#ffffff","fontSize":11,"fontWeight":"bold"},"encoding":{"x":{"datum":229,"scale":{"domain":[0,1169]}},"y":{"datum":15,"scale":{"domain":[27,0]}},"text":{"value":"S"}}},
 {"mark":{"type":"text","baseline":"middle","color":"#dfe8ee","fontSize":14},"encoding":{"x":{"datum":251,"scale":{"domain":[0,1169]}},"y":{"datum":15,"scale":{"domain":[27,0]}},"text":{"value":"«"}}},
 {"mark":{"type":"text","align":"left","baseline":"middle","color":"#dfe8ee","fontSize":10.8},"encoding":{"x":{"datum":898,"scale":{"domain":[0,1169]}},"y":{"datum":15,"scale":{"domain":[27,0]}},"text":{"value":"VWAP: -\u00a0\u00a0ΣV: 951m\u00a0\u00a0L: 645.0600\u00a0\u00a0+/-:"}}},
 {"mark":{"type":"text","align":"left","baseline":"middle","color":"#6fd13f","fontSize":11},"encoding":{"x":{"datum":1082,"scale":{"domain":[0,1169]}},"y":{"datum":15,"scale":{"domain":[27,0]}},"text":{"value":"13.3600"}}},
 {"mark":{"type":"text","align":"left","baseline":"middle","color":"#6fd13f","fontSize":11},"encoding":{"x":{"datum":1126,"scale":{"domain":[0,1169]}},"y":{"datum":15,"scale":{"domain":[27,0]}},"text":{"value":"2.11%"}}}
]},
{"width":1097,"height":354,"data":{"values":[{}]},"resolve":{"scale":{"x":"independent","y":"independent","color":"independent","fill":"independent"}},"layer":[
 {"data":{"name":"vbp"},"mark":{"type":"rect","color":"#008080"},"encoding":{
  "x":{"field":"pv","type":"quantitative","scale":{"domain":[0,109.7]}},"x2":{"datum":0},
  "y":{"field":"lo","type":"quantitative","scale":{"domain":[352.6,675.5]},"axis":{"orient":"right","values":[400,450,500,550,650],"format":".4f","ticks":false,"grid":false,"title":null,"domainColor":"#d8d8d8","domainWidth":1.2,"labelColor":"#ffffff","labelFontSize":11,"labelPadding":10,"labelOverlap":false,"labelBound":false}},"y2":{"field":"hi"}}},
 {"data":{"name":"bars"},"encoding":{"x":{"field":"i","type":"quantitative","scale":{"domain":[-0.149,203.76]}}},"layer":[
  {"mark":{"type":"rule","color":"#ffffff","strokeWidth":1.7,"clip":true},"encoding":{"y":{"field":"l","type":"quantitative","scale":{"domain":[352.6,675.5]}},"y2":{"field":"h"}}},
  {"mark":{"type":"tick","orient":"horizontal","color":"#ffffff","size":3.5,"thickness":1.6,"xOffset":-1.75,"opacity":1,"clip":true},"encoding":{"y":{"field":"o","type":"quantitative","scale":{"domain":[352.6,675.5]}}}},
  {"mark":{"type":"tick","orient":"horizontal","color":"#ffffff","size":3.5,"thickness":1.6,"xOffset":1.75,"opacity":1,"clip":true},"encoding":{"y":{"field":"c","type":"quantitative","scale":{"domain":[352.6,675.5]}}}},
  {"data":{"name":"lines"},"mark":{"type":"line","clip":true,"strokeJoin":"round","interpolate":"monotone"},"encoding":{
   "y":{"field":"p","type":"quantitative","scale":{"domain":[352.6,675.5]}},
   "color":{"field":"s","type":"nominal","scale":{"domain":["MA50","EMA20","EMA8"],"range":["#ffff00","#00c8ff","#ff0000"]}},
   "strokeWidth":{"field":"s","type":"nominal","scale":{"domain":["MA50","EMA20","EMA8"],"range":[2,3.4,3.4]}}}}
 ]},
 {"data":{"name":"tags"},"encoding":{"x":{"datum":1097,"scale":{"domain":[0,1097]}},"y":{"field":"at","type":"quantitative","scale":{"domain":[352.6,675.5]}}},"layer":[
  {"mark":{"type":"point","filled":true,"size":4,"opacity":1,"shape":"M2 0 L7 -8 L72 -8 L72 8 L7 8 Z"},"encoding":{"fill":{"field":"s","type":"nominal","scale":{"domain":["OBSHX","EMA8","EMA20","MA50"],"range":["#ffffff","#ff0000","#00c8ff","#ffff00"]}}}},
  {"mark":{"type":"text","align":"left","baseline":"middle","fontSize":11,"dx":8},"encoding":{"text":{"field":"t"},"color":{"field":"s","type":"nominal","scale":{"domain":["OBSHX","EMA8","EMA20","MA50"],"range":["#000000","#ffffff","#00334d","#000000"]}}}}
 ]},
 {"layer":[
  {"mark":{"type":"rect","color":"#8c8c8c"},"encoding":{"x":{"datum":0,"scale":{"domain":[0,1097]}},"x2":{"datum":1097},"y":{"datum":353,"scale":{"domain":[354,0]}},"y2":{"datum":355}}},
  {"mark":{"type":"rect","color":"#6b6b6b"},"encoding":{"x":{"datum":5,"scale":{"domain":[0,1097]}},"x2":{"datum":53},"y":{"datum":4,"scale":{"domain":[354,0]}},"y2":{"datum":18}}},
  {"mark":{"type":"rect","color":"#ffffff"},"encoding":{"x":{"datum":5,"scale":{"domain":[0,1097]}},"x2":{"datum":53},"y":{"datum":18,"scale":{"domain":[354,0]}},"y2":{"datum":20}}},
  {"mark":{"type":"text","align":"left","baseline":"middle","color":"#ffffff","fontSize":11},"encoding":{"x":{"datum":9.5,"scale":{"domain":[0,1097]}},"y":{"datum":11.5,"scale":{"domain":[354,0]}},"text":{"value":"OBSHX"}}},
  {"mark":{"type":"rect","color":"#4d4a00"},"encoding":{"x":{"datum":61,"scale":{"domain":[0,1097]}},"x2":{"datum":138},"y":{"datum":4,"scale":{"domain":[354,0]}},"y2":{"datum":18}}},
  {"mark":{"type":"rect","color":"#ffff00"},"encoding":{"x":{"datum":61,"scale":{"domain":[0,1097]}},"x2":{"datum":138},"y":{"datum":18,"scale":{"domain":[354,0]}},"y2":{"datum":20}}},
  {"mark":{"type":"text","align":"left","baseline":"middle","color":"#ffffff","fontSize":11},"encoding":{"x":{"datum":65,"scale":{"domain":[0,1097]}},"y":{"datum":11.5,"scale":{"domain":[354,0]}},"text":{"value":"MA\u00a0\u00a0Close 50"}}},
  {"mark":{"type":"rect","color":"#003a4d"},"encoding":{"x":{"datum":146,"scale":{"domain":[0,1097]}},"x2":{"datum":230},"y":{"datum":4,"scale":{"domain":[354,0]}},"y2":{"datum":18}}},
  {"mark":{"type":"rect","color":"#00c8ff"},"encoding":{"x":{"datum":146,"scale":{"domain":[0,1097]}},"x2":{"datum":230},"y":{"datum":18,"scale":{"domain":[354,0]}},"y2":{"datum":20}}},
  {"mark":{"type":"text","align":"left","baseline":"middle","color":"#ffffff","fontSize":11},"encoding":{"x":{"datum":150,"scale":{"domain":[0,1097]}},"y":{"datum":11.5,"scale":{"domain":[354,0]}},"text":{"value":"EMA\u00a0\u00a0Close 20"}}},
  {"mark":{"type":"rect","color":"#4d0000"},"encoding":{"x":{"datum":238,"scale":{"domain":[0,1097]}},"x2":{"datum":316},"y":{"datum":4,"scale":{"domain":[354,0]}},"y2":{"datum":18}}},
  {"mark":{"type":"rect","color":"#ff0000"},"encoding":{"x":{"datum":238,"scale":{"domain":[0,1097]}},"x2":{"datum":316},"y":{"datum":18,"scale":{"domain":[354,0]}},"y2":{"datum":20}}},
  {"mark":{"type":"text","align":"left","baseline":"middle","color":"#ffffff","fontSize":11},"encoding":{"x":{"datum":242,"scale":{"domain":[0,1097]}},"y":{"datum":11.5,"scale":{"domain":[354,0]}},"text":{"value":"EMA\u00a0\u00a0Close 8"}}},
  {"mark":{"type":"rect","color":"#008000"},"encoding":{"x":{"datum":324,"scale":{"domain":[0,1097]}},"x2":{"datum":348},"y":{"datum":18,"scale":{"domain":[354,0]}},"y2":{"datum":20}}},
  {"mark":{"type":"text","align":"left","baseline":"middle","color":"#ffffff","fontSize":11},"encoding":{"x":{"datum":328,"scale":{"domain":[0,1097]}},"y":{"datum":11.5,"scale":{"domain":[354,0]}},"text":{"value":"PV"}}},
  {"mark":{"type":"text","baseline":"middle","color":"#c8c8c8","fontSize":8},"encoding":{"x":{"datum":586,"scale":{"domain":[0,1097]}},"y":{"datum":353.5,"scale":{"domain":[354,0]}},"text":{"value":"·····"}}}
 ]}
]},
{"width":1097,"height":84,"data":{"values":[{}]},"resolve":{"scale":{"x":"independent","y":"independent","color":"independent","fill":"independent"}},"layer":[
 {"data":{"name":"bars"},"encoding":{"x":{"field":"i","type":"quantitative","scale":{"domain":[-0.149,203.76],"padding":0}}},"layer":[
  {"mark":{"type":"bar","size":4.3},"encoding":{
   "y":{"field":"v","type":"quantitative","scale":{"type":"log","domain":[4.4e-13,1e12]},"axis":{"orient":"right","values":[1e12],"labelExpr":"'1,000,000tn'","ticks":false,"grid":false,"title":null,"domainColor":"#d8d8d8","domainWidth":1.2,"labelColor":"#ffffff","labelFontSize":11,"labelPadding":12,"labelOverlap":false,"labelBound":false}},
   "y2":{"datum":4.4e-13},
   "color":{"field":"d","type":"nominal","scale":{"domain":["R","G"],"range":["#ff0000","#2e8b57"]}}}},
  {"data":{"name":"vema"},"mark":{"type":"line","color":"#6a8cff","strokeWidth":4,"clip":true},"encoding":{"y":{"field":"v","type":"quantitative","scale":{"type":"log","domain":[4.4e-13,1e12]}}}}
 ]},
 {"data":{"values":[{"s":"Vol","at":6000000,"t":"951m"},{"s":"EMA50","at":526,"t":"526m"}]},"encoding":{"x":{"datum":1097,"scale":{"domain":[0,1097]}},"y":{"field":"at","type":"quantitative","scale":{"type":"log","domain":[4.4e-13,1e12]}}},"layer":[
  {"mark":{"type":"point","filled":true,"size":4,"opacity":1,"shape":"M2 0 L7 -7 L72 -7 L72 7 L7 7 Z"},"encoding":{"fill":{"field":"s","type":"nominal","scale":{"domain":["Vol","EMA50"],"range":["#b0b0b0","#6a8cff"]}}}},
  {"mark":{"type":"text","align":"left","baseline":"middle","fontSize":11,"dx":8,"color":"#00203a"},"encoding":{"text":{"field":"t"}}}
 ]},
 {"layer":[
  {"mark":{"type":"rect","color":"#8c8c8c"},"encoding":{"x":{"datum":0,"scale":{"domain":[0,1097]}},"x2":{"datum":1097},"y":{"datum":83,"scale":{"domain":[84,0]}},"y2":{"datum":85}}},
  {"mark":{"type":"rect","color":"#4d4d4d"},"encoding":{"x":{"datum":5,"scale":{"domain":[0,1097]}},"x2":{"datum":21},"y":{"datum":3,"scale":{"domain":[84,0]}},"y2":{"datum":17}}},
  {"mark":{"type":"rect","color":"#aaaaaa"},"encoding":{"x":{"datum":5,"scale":{"domain":[0,1097]}},"x2":{"datum":21},"y":{"datum":17,"scale":{"domain":[84,0]}},"y2":{"datum":19}}},
  {"mark":{"type":"text","align":"left","baseline":"middle","color":"#ffffff","fontSize":11},"encoding":{"x":{"datum":9.5,"scale":{"domain":[0,1097]}},"y":{"datum":10.5,"scale":{"domain":[84,0]}},"text":{"value":"V"}}},
  {"mark":{"type":"rect","color":"#0a2a8c"},"encoding":{"x":{"datum":29,"scale":{"domain":[0,1097]}},"x2":{"datum":81},"y":{"datum":3,"scale":{"domain":[84,0]}},"y2":{"datum":17}}},
  {"mark":{"type":"rect","color":"#6a8cff"},"encoding":{"x":{"datum":29,"scale":{"domain":[0,1097]}},"x2":{"datum":81},"y":{"datum":17,"scale":{"domain":[84,0]}},"y2":{"datum":19}}},
  {"mark":{"type":"text","align":"left","baseline":"middle","color":"#ffffff","fontSize":11},"encoding":{"x":{"datum":33.5,"scale":{"domain":[0,1097]}},"y":{"datum":10.5,"scale":{"domain":[84,0]}},"text":{"value":"EMA\u00a0\u00a050"}}}
 ]}
]},
{"width":1097,"height":104,"data":{"values":[{}]},"resolve":{"scale":{"x":"independent","y":"independent","color":"independent","fill":"independent"}},"layer":[
 {"data":{"name":"bars"},"encoding":{"x":{"field":"i","type":"quantitative","scale":{"domain":[-0.149,203.76]},"axis":{"values":[17,40,60,79,100,120,142,161,179,203],"labelExpr":"datum.value==40?'Nov':datum.value==60?'Dec':datum.value==79?'Jan':datum.value==100?'Feb':datum.value==120?'Mar':datum.value==142?'Apr':datum.value==161?'May':datum.value==179?'Jun':''","grid":false,"title":null,"domain":false,"tickColor":"#ffffff","tickWidth":2,"tickSize":5,"labelColor":"#e4ecf2","labelFontSize":11,"labelFontWeight":"bold","labelPadding":3,"labelOverlap":false,"labelBound":false,"labelFlush":false}}},"layer":[
  {"mark":{"type":"line","color":"#ffff00","strokeWidth":2,"clip":true},"encoding":{"y":{"field":"so","type":"quantitative","scale":{"domain":[35.6,126]},"axis":{"orient":"right","values":[100,50],"format":".4f","ticks":false,"grid":false,"title":null,"domainColor":"#d8d8d8","domainWidth":1.2,"labelColor":"#ffffff","labelFontSize":11,"labelPadding":10,"labelOverlap":false,"labelBound":false}}}},
  {"data":{"values":[{}]},"mark":{"type":"rule","color":"#ff0000","strokeWidth":2,"strokeDash":[6,3],"clip":true},"encoding":{"x":null,"y":{"datum":77,"scale":{"domain":[35.6,126]}}}}
 ]},
 {"data":{"values":[{"s":"SO1","at":93.87,"t":"93.8664"},{"s":"Level","at":77,"t":"77.0000"}]},"encoding":{"x":{"datum":1097,"scale":{"domain":[0,1097]}},"y":{"field":"at","type":"quantitative","scale":{"domain":[35.6,126]}}},"layer":[
  {"mark":{"type":"point","filled":true,"size":4,"opacity":1,"shape":"M2 0 L7 -8 L72 -8 L72 8 L7 8 Z"},"encoding":{"fill":{"field":"s","type":"nominal","scale":{"domain":["SO1","Level"],"range":["#ffff00","#ff0000"]}}}},
  {"mark":{"type":"text","align":"left","baseline":"middle","fontSize":11,"dx":8},"encoding":{"text":{"field":"t"},"color":{"field":"s","type":"nominal","scale":{"domain":["SO1","Level"],"range":["#000000","#ffffff"]}}}}
 ]},
 {"data":{"values":[{"at":20,"t":"20.0000"}]},"encoding":{"x":{"datum":1097,"scale":{"domain":[0,1097]}},"y":{"field":"at","type":"quantitative","scale":{"domain":[35.6,126]}}},"layer":[
  {"mark":{"type":"point","filled":true,"size":4,"opacity":1,"color":"#2e8b57","shape":"M2 0 L7 -8 L72 -8 L72 3 L7 3 Z"}},
  {"mark":{"type":"text","align":"left","baseline":"middle","fontSize":11,"dx":8,"color":"#00203a"},"encoding":{"text":{"field":"t"}}}
 ]},
 {"layer":[
  {"mark":{"type":"rect","color":"#d8d8d8"},"encoding":{"x":{"datum":0,"scale":{"domain":[0,1097]}},"x2":{"datum":1097},"y":{"datum":103.4,"scale":{"domain":[104,0]}},"y2":{"datum":104.8}}},
  {"mark":{"type":"rect","color":"#7dff6a"},"encoding":{"x":{"datum":376,"scale":{"domain":[0,1097]}},"x2":{"datum":378},"y":{"datum":104,"scale":{"domain":[104,0]}},"y2":{"datum":109}}},
  {"mark":{"type":"text","align":"left","baseline":"middle","color":"#e4ecf2","fontSize":11,"fontWeight":"bold"},"encoding":{"x":{"datum":4,"scale":{"domain":[0,1097]}},"y":{"datum":117,"scale":{"domain":[104,0]}},"text":{"value":"2025 Sep 08"}}},
  {"mark":{"type":"rect","color":"#003a4d"},"encoding":{"x":{"datum":5,"scale":{"domain":[0,1097]}},"x2":{"datum":49},"y":{"datum":3,"scale":{"domain":[104,0]}},"y2":{"datum":17}}},
  {"mark":{"type":"rect","color":"#00c8ff"},"encoding":{"x":{"datum":5,"scale":{"domain":[0,1097]}},"x2":{"datum":49},"y":{"datum":17,"scale":{"domain":[104,0]}},"y2":{"datum":19}}},
  {"mark":{"type":"text","align":"left","baseline":"middle","color":"#ffffff","fontSize":11},"encoding":{"x":{"datum":9.5,"scale":{"domain":[0,1097]}},"y":{"datum":10.5,"scale":{"domain":[104,0]}},"text":{"value":"SO\u00a0\u00a060"}}},
  {"mark":{"type":"rect","color":"#4d4a00"},"encoding":{"x":{"datum":57,"scale":{"domain":[0,1097]}},"x2":{"datum":95},"y":{"datum":3,"scale":{"domain":[104,0]}},"y2":{"datum":17}}},
  {"mark":{"type":"rect","color":"#ffff00"},"encoding":{"x":{"datum":57,"scale":{"domain":[0,1097]}},"x2":{"datum":95},"y":{"datum":17,"scale":{"domain":[104,0]}},"y2":{"datum":19}}},
  {"mark":{"type":"text","align":"left","baseline":"middle","color":"#ffffff","fontSize":11},"encoding":{"x":{"datum":61,"scale":{"domain":[0,1097]}},"y":{"datum":10.5,"scale":{"domain":[104,0]}},"text":{"value":"SO\u00a0\u00a01"}}}
 ]}
]},
{"width":1169,"height":23,"data":{"values":[{}]},"layer":[
 {"mark":{"type":"rect","color":"#ededed"},"encoding":{"x":{"datum":0,"scale":{"domain":[0,1169]}},"x2":{"datum":1169},"y":{"datum":21,"scale":{"domain":[23,0]}},"y2":{"datum":23}}},
 {"mark":{"type":"rect","color":"#bdbdbd"},"encoding":{"x":{"datum":880,"scale":{"domain":[0,1169]}},"x2":{"datum":1155},"y":{"datum":21,"scale":{"domain":[23,0]}},"y2":{"datum":23}}}
]}
]
}
